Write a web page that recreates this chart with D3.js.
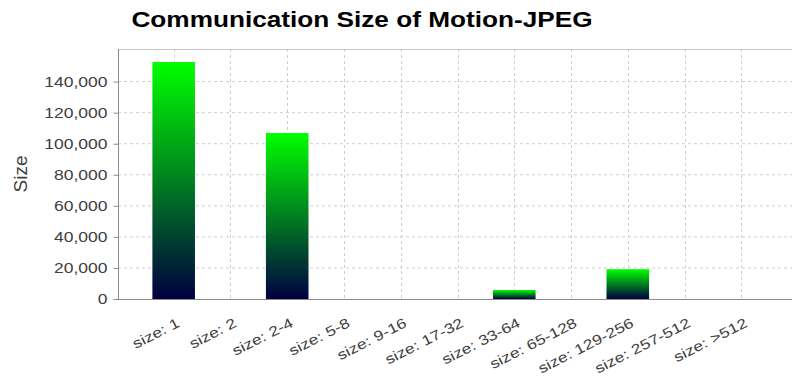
<!DOCTYPE html>
<html>
<head>
<meta charset="utf-8">
<script src="https://cdn.jsdelivr.net/npm/d3@7"></script>
<style>
  html, body { margin: 0; padding: 0; background: #ffffff; }
  svg { display: block; font-family: "Liberation Sans", Arial, sans-serif; }
</style>
</head>
<body>
<svg id="chart" width="792" height="380"></svg>
<script>
// Message-size buckets and the number of messages in each
const categories = ["size: 1", "size: 2", "size: 2-4", "size: 5-8", "size: 9-16", "size: 17-32",
                    "size: 33-64", "size: 65-128", "size: 129-256", "size: 257-512", "size: >512"];
const values = [152600, 0, 106900, 0, 0, 0, 5800, 0, 19200, 0, 0];
const yTicks = [0, 20000, 40000, 60000, 80000, 100000, 120000, 140000];
const yMax = 161000;

const title = "Communication Size of Motion-JPEG";
const yTitle = "Size";

const plot = { left: 118, right: 792, top: 49, bottom: 299 };
const WIDE = 1.25; // glyphs are drawn a little wider than the font's natural width

const svg = d3.select("#chart");

// widen a text element along its baseline
function widen(sel, k) {
  sel.each(function () {
    const n = this.getComputedTextLength();
    d3.select(this).attr("textLength", n * k).attr("lengthAdjust", "spacingAndGlyphs");
  });
}

const x = d3.scaleBand()
  .domain(categories)
  .range([145.3, 769.7])
  .paddingInner(0.25)
  .paddingOuter(0.125);

const y = d3.scaleLinear()
  .domain([0, yMax])
  .range([plot.bottom, plot.top]);

// vertical gradient per bar: green at the top fading to navy at the base
const defs = svg.append("defs");
const grad = defs.append("linearGradient")
  .attr("id", "barFill")
  .attr("x1", 0).attr("y1", 0).attr("x2", 0).attr("y2", 1);
grad.append("stop").attr("offset", "0%").attr("stop-color", "#00ff00");
grad.append("stop").attr("offset", "100%").attr("stop-color", "#000040");

// gridlines
const grid = svg.append("g");
grid.selectAll("line.h")
  .data(yTicks.filter(d => d > 0))
  .join("line")
  .attr("x1", plot.left).attr("x2", plot.right)
  .attr("y1", d => y(d)).attr("y2", d => y(d))
  .attr("stroke", "#cfcfcf").attr("stroke-width", 1)
  .attr("stroke-dasharray", "3,3");
grid.selectAll("line.v")
  .data(categories)
  .join("line")
  .attr("x1", d => Math.round(x(d) + x.bandwidth() / 2) + 0.5)
  .attr("x2", d => Math.round(x(d) + x.bandwidth() / 2) + 0.5)
  .attr("y1", plot.top).attr("y2", plot.bottom)
  .attr("stroke", "#cfcfcf").attr("stroke-width", 1)
  .attr("stroke-dasharray", "3,3");

// plot top border
svg.append("line")
  .attr("x1", plot.left).attr("x2", plot.right)
  .attr("y1", plot.top + 0.5).attr("y2", plot.top + 0.5)
  .attr("stroke", "#c8c8c8");

// bars
svg.append("g").selectAll("rect")
  .data(values.map((v, i) => ({ c: categories[i], v })))
  .join("rect")
  .attr("x", d => x(d.c))
  .attr("width", x.bandwidth())
  .attr("y", d => y(d.v))
  .attr("height", d => plot.bottom - y(d.v))
  .attr("fill", "url(#barFill)");

// y axis
const yAxis = svg.append("g")
  .attr("transform", `translate(${plot.left + 0.5},0)`)
  .call(d3.axisLeft(y).tickValues(yTicks).tickSize(5).tickPadding(6).tickFormat(d3.format(",")));
yAxis.select(".domain").attr("stroke", "#8a8a8a").attr("d", `M0,${plot.top}V${plot.bottom}`);
yAxis.selectAll(".tick line").attr("stroke", "#8a8a8a");
yAxis.selectAll(".tick text")
  .attr("fill", "#404040")
  .style("font-size", "14px")
  .call(widen, WIDE);

// x axis line
svg.append("line")
  .attr("x1", plot.left).attr("x2", plot.right)
  .attr("y1", plot.bottom + 0.5).attr("y2", plot.bottom + 0.5)
  .attr("stroke", "#8a8a8a");

// category labels, tilted
svg.append("g").selectAll("text")
  .data(categories)
  .join("text")
  .attr("transform", d => `translate(${x(d) + x.bandwidth() / 2 + 7},326) rotate(-27)`)
  .attr("text-anchor", "end")
  .attr("fill", "#404040")
  .style("font-size", "14px")
  .text(d => d)
  .call(widen, WIDE);

// y axis title
svg.append("text")
  .attr("transform", "translate(27,174) rotate(-90)")
  .attr("text-anchor", "middle")
  .attr("fill", "#404040")
  .style("font-size", "19px")
  .text(yTitle);

// chart title
svg.append("text")
  .attr("x", 362)
  .attr("y", 27)
  .attr("text-anchor", "middle")
  .attr("fill", "#000000")
  .style("font-size", "22px")
  .style("font-weight", "bold")
  .text(title)
  .call(widen, 1.19);
</script>
</body>
</html>
